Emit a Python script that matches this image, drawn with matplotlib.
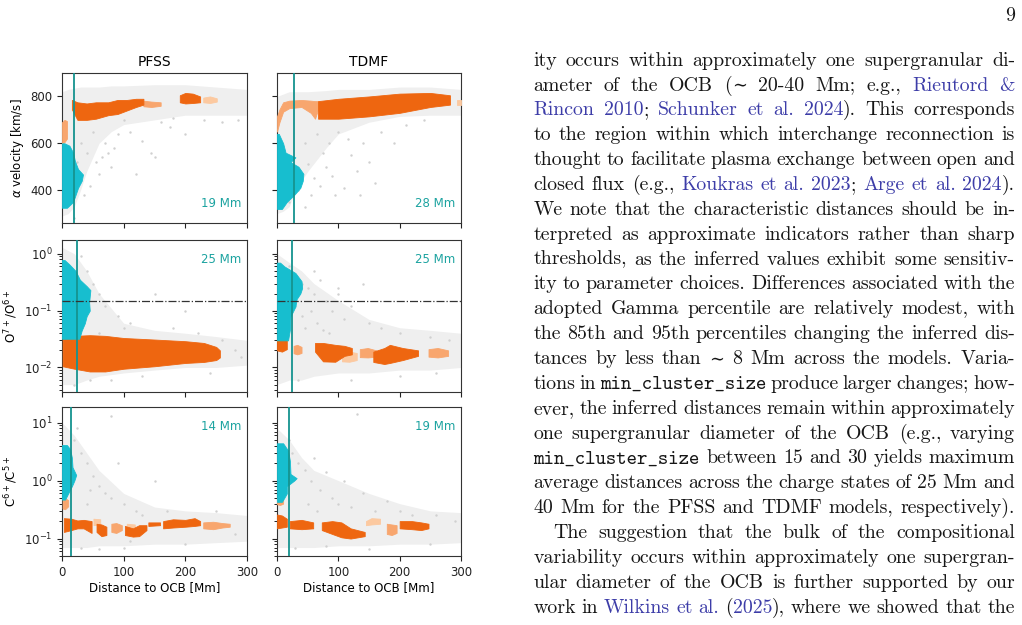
import matplotlib.pyplot as plt

W, H = 1022, 625
fig = plt.figure(figsize=(W / 100, H / 100), dpi=100)

models = ['PFSS', 'TDMF']
dist_ticks = [0, 100, 200, 300]
ocb_dist = [[19, 28], [25, 25], [14, 19]]   # characteristic distance per panel [Mm]
o_thresh = 0.15

# ---- alpha velocity, PFSS ----
v_pfss_grey = [(0, 290, 820), (10, 300, 830), (20, 330, 835), (30, 400, 840), (40, 480, 840), (60, 600, 840),
               (80, 650, 845), (100, 680, 845), (150, 700, 850), (200, 720, 850), (250, 720, 840), (300, 720, 830)]
v_pfss_dots = [(40, 560), (55, 520), (70, 600), (90, 640), (110, 650), (130, 610), (150, 540), (175, 670),
               (200, 640), (230, 700), (260, 690), (35, 380), (45, 420), (60, 470), (80, 500), (20, 280),
               (120, 470), (145, 560), (100, 700), (180, 710), (50, 650), (75, 560), (285, 700), (160, 690),
               (25, 520), (30, 600), (65, 540), (85, 580)]
v_pfss_cyan = [(325, 8), (350, 18), (380, 22), (410, 26), (440, 32), (467, 34), (490, 26), (524, 21), (560, 18),
               (590, 12), (600, 4)]
v_pfss_orange = [[(16, 745, 785), (25, 700, 775), (40, 700, 770), (55, 705, 775), (75, 720, 775), (90, 725, 785),
                  (105, 740, 785), (120, 755, 790), (132, 765, 790)],
                 [(191, 775, 805), (200, 770, 815), (212, 772, 812), (224, 775, 800)]]
v_pfss_light = [[(0, 600, 690), (4, 605, 700), (8, 620, 695)],
                [(132, 758, 782), (145, 755, 778), (160, 760, 775)]]
v_pfss_pale = [[(229, 775, 795), (240, 772, 800), (251, 778, 792)]]

# ---- alpha velocity, TDMF ----
v_tdmf_grey = [(0, 300, 800), (10, 310, 810), (20, 330, 820), (30, 400, 820), (50, 480, 820), (80, 580, 825),
               (100, 640, 830), (150, 690, 830), (200, 715, 840), (250, 720, 840), (300, 720, 830)]
v_tdmf_dots = [(20, 350), (35, 400), (45, 330), (55, 380), (60, 450), (70, 420), (80, 500), (90, 460), (95, 380),
               (110, 410), (120, 550), (130, 480), (140, 600), (150, 520), (160, 430), (45, 600), (65, 640),
               (85, 600), (100, 650), (170, 650), (190, 600), (210, 680), (240, 700), (30, 470), (50, 510),
               (75, 560), (115, 620), (135, 380)]
v_tdmf_cyan = [(320, 8), (350, 16), (380, 28), (410, 38), (440, 42), (470, 43), (500, 35), (520, 22), (540, 30),
               (560, 14), (600, 10), (640, 3)]
v_tdmf_orange = [[(67, 705, 780), (100, 705, 790), (150, 715, 800), (200, 730, 812), (250, 755, 815), (282, 765, 805)]]
v_tdmf_light = [[(0, 650, 715), (4, 690, 745), (10, 735, 775), (20, 750, 782), (40, 755, 785), (55, 730, 782),
                 (62, 705, 780), (67, 745, 780)]]
v_tdmf_pale = [[(294, 765, 785), (300, 765, 785)]]

# ---- O7+/O6+, PFSS ----
o_pfss_grey = [(0, 0.005, 1.3), (20, 0.005, 1.0), (40, 0.006, 0.5), (60, 0.007, 0.2), (100, 0.008, 0.06),
               (150, 0.009, 0.045), (200, 0.01, 0.04), (250, 0.01, 0.035), (300, 0.011, 0.03)]
o_pfss_dots = [(40, 0.5), (50, 0.3), (60, 0.2), (30, 0.9), (70, 0.12), (90, 0.08), (110, 0.06), (150, 0.2),
               (180, 0.05), (220, 0.04), (260, 0.03), (280, 0.02), (290, 0.015), (45, 0.006), (80, 0.006),
               (130, 0.007), (20, 0.005), (100, 0.05), (200, 0.1), (240, 0.008), (60, 0.04), (35, 0.07)]
o_pfss_cyan = [(0.032, 28), (0.045, 32), (0.06, 37), (0.08, 40), (0.1, 45), (0.14, 44), (0.18, 45), (0.23, 46),
               (0.27, 40), (0.35, 29), (0.5, 22), (0.65, 12), (0.78, 4)]
o_pfss_orange = [[(1, 0.0105, 0.035), (20, 0.0095, 0.036), (45, 0.0085, 0.037), (70, 0.0085, 0.036),
                  (100, 0.0095, 0.033), (150, 0.0105, 0.031), (200, 0.012, 0.029), (230, 0.0125, 0.027),
                  (250, 0.0135, 0.023), (256, 0.015, 0.02)]]
o_pfss_light = []
o_pfss_pale = []

# ---- O7+/O6+, TDMF ----
o_tdmf_grey = [(0, 0.005, 1.0), (20, 0.006, 0.7), (40, 0.006, 0.5), (60, 0.007, 0.3), (100, 0.008, 0.15),
               (150, 0.008, 0.07), (200, 0.009, 0.05), (250, 0.009, 0.045), (300, 0.01, 0.04)]
o_tdmf_dots = [(20, 0.6), (30, 0.4), (40, 0.3), (50, 0.25), (60, 0.2), (70, 0.35), (80, 0.15), (90, 0.1),
               (100, 0.25), (110, 0.07), (120, 0.12), (140, 0.3), (150, 0.06), (170, 0.05), (40, 0.08),
               (55, 0.1), (65, 0.06), (75, 0.045), (85, 0.04), (30, 0.12), (45, 0.05), (200, 0.04), (250, 0.035),
               (280, 0.03), (35, 0.006), (120, 0.006), (200, 0.007), (260, 0.008), (100, 0.2), (60, 0.5)]
o_tdmf_cyan = [(0.03, 18), (0.046, 21), (0.079, 22), (0.118, 30), (0.16, 32), (0.2, 38), (0.25, 41), (0.33, 40),
               (0.46, 30), (0.6, 12), (0.7, 5)]
o_tdmf_orange = [[(0, 0.02, 0.031), (8, 0.019, 0.032), (16, 0.021, 0.03)],
                 [(62, 0.019, 0.027), (75, 0.0128, 0.027), (95, 0.0126, 0.025), (110, 0.016, 0.024), (122, 0.017, 0.022)],
                 [(157, 0.0125, 0.019), (175, 0.0115, 0.022), (184, 0.012, 0.025), (205, 0.0135, 0.022), (230, 0.016, 0.02)]]
o_tdmf_light = [[(27, 0.0178, 0.024), (33, 0.017, 0.025), (40, 0.018, 0.023)],
                [(135, 0.0152, 0.021), (148, 0.015, 0.022), (162, 0.0155, 0.02)],
                [(247, 0.0155, 0.021), (262, 0.015, 0.022), (279, 0.016, 0.02)]]
o_tdmf_pale = [[(106, 0.0128, 0.0178), (118, 0.0126, 0.019), (130, 0.0135, 0.018)]]

# ---- C6+/C5+, PFSS ----
c_pfss_grey = [(0, 0.07, 10), (20, 0.07, 6), (40, 0.07, 3), (60, 0.075, 1.5), (100, 0.075, 0.6), (150, 0.08, 0.35),
               (200, 0.08, 0.3), (250, 0.085, 0.28), (300, 0.09, 0.25)]
c_pfss_dots = [(20, 5), (30, 3), (40, 2), (50, 1.2), (60, 0.8), (70, 0.6), (80, 0.5), (100, 0.4), (120, 0.3),
               (150, 1.0), (90, 2), (40, 0.4), (30, 0.07), (60, 0.065), (100, 0.07), (200, 0.08), (250, 0.3),
               (280, 0.12), (130, 0.25), (25, 8), (45, 0.7), (80, 13), (110, 0.09), (170, 0.3)]
c_pfss_cyan = [(0.47, 5), (0.6, 10), (0.8, 16), (1.0, 20), (1.25, 23), (1.7, 17), (2.5, 16), (3.5, 13), (4.1, 8)]
c_pfss_orange = [[(3, 0.13, 0.225), (15, 0.14, 0.22), (25, 0.15, 0.205), (35, 0.15, 0.21), (48, 0.125, 0.2)],
                 [(56, 0.13, 0.18), (64, 0.11, 0.175), (72, 0.115, 0.16)],
                 [(102, 0.115, 0.165), (115, 0.108, 0.15), (125, 0.11, 0.17), (137, 0.14, 0.17)],
                 [(140, 0.165, 0.19), (159, 0.17, 0.19)],
                 [(164, 0.15, 0.2), (180, 0.155, 0.215), (200, 0.16, 0.21), (215, 0.165, 0.225), (224, 0.17, 0.2)]]
c_pfss_light = [[(1, 0.33, 0.47), (5, 0.32, 0.5), (10, 0.36, 0.46)],
                [(80, 0.13, 0.18), (88, 0.125, 0.185), (97, 0.14, 0.17)],
                [(229, 0.15, 0.19), (245, 0.145, 0.195), (260, 0.155, 0.185), (272, 0.16, 0.18)]]
c_pfss_pale = [[(51, 0.17, 0.22), (62, 0.175, 0.215)], [(105, 0.15, 0.18), (118, 0.15, 0.175)]]

# ---- C6+/C5+, TDMF ----
c_tdmf_grey = [(0, 0.07, 8), (20, 0.07, 5), (40, 0.07, 2.5), (60, 0.07, 1.5), (100, 0.075, 1.0), (150, 0.075, 0.6),
               (200, 0.08, 0.4), (250, 0.08, 0.3), (300, 0.085, 0.28)]
c_tdmf_dots = [(20, 5), (25, 3), (35, 2), (45, 1.5), (55, 1), (70, 0.7), (80, 1.4), (90, 0.5), (100, 0.4),
               (120, 0.35), (140, 0.6), (160, 0.3), (180, 0.45), (200, 0.3), (220, 0.25), (50, 0.4), (65, 0.3),
               (130, 14), (30, 0.07), (80, 0.075), (150, 0.065), (250, 0.08), (290, 0.2), (260, 0.25), (110, 1),
               (60, 2.5)]
c_tdmf_cyan = [(0.43, 8), (0.6, 16), (0.8, 16), (1.0, 28), (1.1, 32), (1.3, 22), (2.2, 21), (3.3, 18), (4.4, 10)]
c_tdmf_orange = [[(0, 0.15, 0.26), (8, 0.155, 0.25), (16, 0.16, 0.22)],
                 [(21, 0.15, 0.2), (40, 0.145, 0.21), (59, 0.15, 0.19)],
                 [(73, 0.14, 0.19), (90, 0.12, 0.2), (105, 0.105, 0.19), (120, 0.1, 0.15), (143, 0.11, 0.13)],
                 [(200, 0.15, 0.2), (220, 0.145, 0.2), (235, 0.14, 0.19), (247, 0.15, 0.18)]]
c_tdmf_light = [[(0, 0.39, 0.5), (5, 0.38, 0.52), (10, 0.4, 0.48)],
                [(179, 0.12, 0.18), (187, 0.115, 0.175), (195, 0.125, 0.17)]]
c_tdmf_pale = [[(145, 0.17, 0.2), (154, 0.175, 0.225), (168, 0.18, 0.22)]]

panels = [
    [(v_pfss_grey, v_pfss_dots, v_pfss_cyan, v_pfss_orange, v_pfss_light, v_pfss_pale),
     (v_tdmf_grey, v_tdmf_dots, v_tdmf_cyan, v_tdmf_orange, v_tdmf_light, v_tdmf_pale)],
    [(o_pfss_grey, o_pfss_dots, o_pfss_cyan, o_pfss_orange, o_pfss_light, o_pfss_pale),
     (o_tdmf_grey, o_tdmf_dots, o_tdmf_cyan, o_tdmf_orange, o_tdmf_light, o_tdmf_pale)],
    [(c_pfss_grey, c_pfss_dots, c_pfss_cyan, c_pfss_orange, c_pfss_light, c_pfss_pale),
     (c_tdmf_grey, c_tdmf_dots, c_tdmf_cyan, c_tdmf_orange, c_tdmf_light, c_tdmf_pale)],
]
ylabels = [r'$\alpha$ velocity [km/s]', r'O$^{7+}$/O$^{6+}$', r'C$^{6+}$/C$^{5+}$']
ylims = [(260, 900), (0.0037, 1.75), (0.05, 18.6)]

CYAN = '#17becf'
ORANGE = '#ee6610'
LIGHT = '#f8a66e'
PALE = '#fcc9a0'
TEAL = '#15938f'
TEAL_TXT = '#1ca3a0'

# axes boxes in pixels (left, top, right, bottom)
col_px = [(62, 247), (277, 461)]
row_px = [(73, 223), (240, 392), (407, 556)]


def band(ax, segs, color, z):
    for seg in segs:
        xs = [s[0] for s in seg]
        ax.fill_between(xs, [s[1] for s in seg], [s[2] for s in seg], color=color, lw=0.6, ec=color, zorder=z)


for r in range(3):
    for c in range(2):
        l, rr = col_px[c]
        t, b = row_px[r]
        ax = fig.add_axes([l / W, 1 - b / H, (rr - l) / W, (b - t) / H])
        grey, dots, cyan, orange, light, pale = panels[r][c]
        if r > 0:
            ax.set_yscale('log')
        ax.fill_between([g[0] for g in grey], [g[1] for g in grey], [g[2] for g in grey],
                        color='#efefef', lw=0, zorder=1)
        ax.scatter([d[0] for d in dots], [d[1] for d in dots], s=3, color='#d0d0d0', lw=0, zorder=2)
        band(ax, pale, PALE, 3)
        band(ax, light, LIGHT, 3)
        band(ax, orange, ORANGE, 3)
        ax.fill_betweenx([p[0] for p in cyan], 0, [p[1] for p in cyan], color=CYAN, lw=0.6, ec=CYAN, zorder=4)
        ax.axvline(ocb_dist[r][c], color=TEAL, lw=1.3, zorder=5)
        if r == 1:
            ax.axhline(o_thresh, color='#333333', lw=0.9, ls='-.', zorder=5)
        if r == 0:
            ax.text(0.97, 0.13, f'{ocb_dist[r][c]} Mm', transform=ax.transAxes, ha='right', va='center',
                    color=TEAL_TXT, fontsize=8.5)
            ax.set_title(models[c], fontsize=10, pad=5)
        else:
            ax.text(0.97, 0.87, f'{ocb_dist[r][c]} Mm', transform=ax.transAxes, ha='right', va='center',
                    color=TEAL_TXT, fontsize=8.5)
        ax.set_xlim(0, 300)
        ax.set_ylim(*ylims[r])
        ax.set_xticks(dist_ticks)
        if r == 0:
            ax.set_yticks([400, 600, 800])
        ax.tick_params(labelsize=8.5, length=3.5, width=0.8, colors='#222222')
        ax.tick_params(which='minor', length=2, width=0.6)
        if r < 2:
            ax.set_xticklabels([])
        else:
            ax.set_xlabel('Distance to OCB [Mm]', fontsize=8.5, labelpad=2)
        if c == 1:
            ax.set_yticklabels([], minor=False)
            ax.set_yticklabels([], minor=True)
        else:
            ax.set_ylabel(ylabels[r], fontsize=8.5, labelpad=3)
        for sp in ax.spines.values():
            sp.set_linewidth(0.8)
            sp.set_color('#333333')

# ---- paper text on the right ----
BLUE = '#3d3da8'
INK = '#161616'
body = [
    "ity occurs within approximately one supergranular di-",
    "ameter of the OCB (~ 20-40 Mm; e.g., [Rieutord &]",
    "[Rincon 2010]; [Schunker et al. 2024]).  This corresponds",
    "to the region within which interchange reconnection is",
    "thought to facilitate plasma exchange between open and",
    "closed flux (e.g., [Koukras et al. 2023]; [Arge et al. 2024]).",
    "We note that the characteristic distances should be in-",
    "terpreted as approximate indicators rather than sharp",
    "thresholds, as the inferred values exhibit some sensitiv-",
    "ity to parameter choices. Differences associated with the",
    "adopted Gamma percentile are relatively modest, with",
    "the 85th and 95th percentiles changing the inferred dis-",
    "tances by less than ~ 8 Mm across the models. Varia-",
    "tions in <min_cluster_size> produce larger changes; how-",
    "ever, the inferred distances remain within approximately",
    "one supergranular diameter of the OCB (e.g., varying",
    "<min_cluster_size> between 15 and 30 yields maximum",
    "average distances across the charge states of 25 Mm and",
    "40 Mm for the PFSS and TDMF models, respectively).",
    "The suggestion that the bulk of the compositional",
    "variability occurs within approximately one supergran-",
    "ular diameter of the OCB is further supported by our",
    "work in [Wilkins et al.] ([2025]), where we showed that the",
]
indented = [19]


def parse(line):
    words, style, buf = [[]], 'n', ''
    for ch in line:
        if ch in '[]<> ~':
            if buf:
                words[-1].append((buf, style))
                buf = ''
            if ch == '[':
                style = 'b'
            elif ch == '<':
                style = 't'
            elif ch in ']>':
                style = 'n'
            elif ch == ' ':
                if words[-1]:
                    words.append([])
            else:
                words[-1].append(('\u223c', 'm'))
        else:
            buf += ch
    if buf:
        words[-1].append((buf, style))
    return [w for w in words if w]


styles = {'n': dict(family='cmr10', color=INK), 'b': dict(family='cmr10', color=BLUE),
          't': dict(family='cmtt10', color=INK), 'm': dict(family='DejaVu Serif', color=INK)}
fs = 14.3
renderer = fig.canvas.get_renderer()
x_left, x_right = 533.3, 1015.0
for i, line in enumerate(body):
    yb = 1 - (65.7 + 24.86 * i) / H
    words = parse(line)
    objs = []
    for w in words:
        pieces = []
        for txt, st in w:
            tt = fig.text(0, yb, txt, fontsize=fs * (0.9 if st == 'm' else 1), va='baseline', ha='left', **styles[st])
            pieces.append((tt, tt.get_window_extent(renderer).width))
        objs.append(pieces)
    widths = [sum(p[1] for p in pieces) for pieces in objs]
    x0 = x_left + (20 if i in indented else 0)
    gap = (x_right - x0 - sum(widths)) / max(len(objs) - 1, 1)
    x = x0
    for pieces, wd in zip(objs, widths):
        xp = x
        for tt, pw in pieces:
            tt.set_x(xp / W)
            xp += pw
        x += wd + gap

fig.text(1015 / W, 1 - 21 / H, '9', fontsize=fs, family='cmr10', color=INK, ha='right', va='baseline')

fig.savefig('out.png', dpi=100)
